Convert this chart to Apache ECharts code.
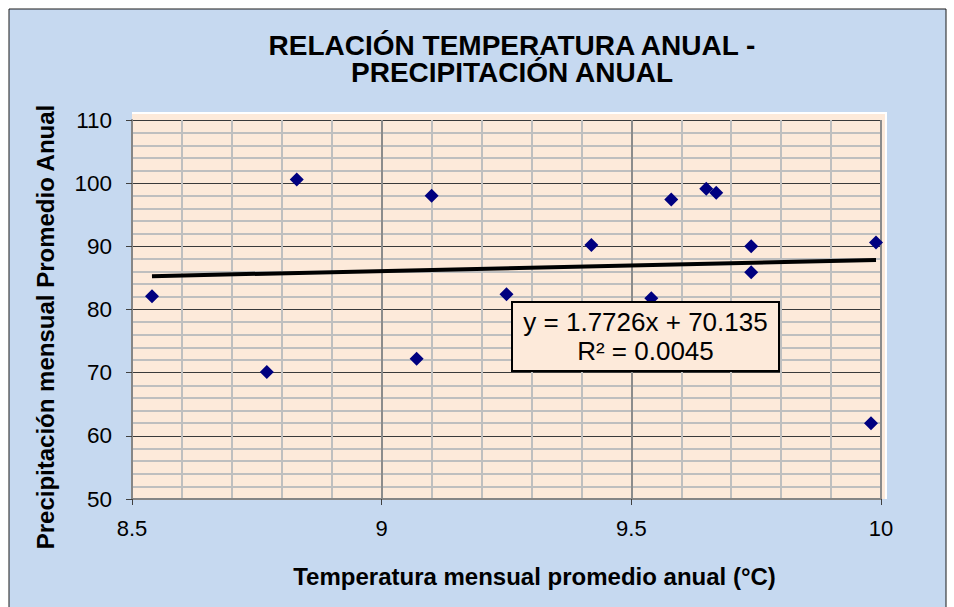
<!DOCTYPE html>
<html>
<head>
<meta charset="utf-8">
<title>Relación temperatura anual - precipitación anual</title>
<script src="https://cdn.jsdelivr.net/npm/echarts@6/dist/echarts.min.js"></script>
<style>
  html, body { margin: 0; padding: 0; background: #ffffff; }
  #chart { width: 954px; height: 607px; }
</style>
</head>
<body>
<div id="chart"></div>
<script>
// Temperatura media anual (°C) y precipitación media anual de cada estación
const temperatura = [8.54, 8.77, 8.83, 9.07, 9.10, 9.25, 9.42, 9.54, 9.58, 9.65, 9.67, 9.74, 9.74, 9.98, 9.99];
const precipitacion = [82.1, 70.1, 100.6, 72.2, 98.0, 82.4, 90.2, 81.8, 97.4, 99.1, 98.5, 90.0, 85.9, 62.0, 90.6];

// Línea de tendencia lineal: y = pendiente * x + intercepto
const pendiente = 1.7726;
const intercepto = 70.135;
const r2 = 0.0045;

const titulo = ['RELACIÓN TEMPERATURA ANUAL -', 'PRECIPITACIÓN ANUAL'];
const nombreEjeX = 'Temperatura mensual promedio anual (°C)';
const nombreEjeY = 'Precipitación mensual Promedio Anual';

const FONT = '"Liberation Sans", Arial, sans-serif';
const AZUL = '#C6D9F0';
const MELOCOTON = '#FDEADA';

const puntos = temperatura.map((t, i) => [t, precipitacion[i]]);
const xMin = Math.min(...temperatura);
const xMax = Math.max(...temperatura);
const tendencia = [
  [xMin, pendiente * xMin + intercepto],
  [xMax, pendiente * xMax + intercepto]
];

const chart = echarts.init(document.getElementById('chart'), null, { renderer: 'svg' });

chart.setOption({
  backgroundColor: '#ffffff',
  animation: false,
  grid: { left: 132, right: 73, top: 120, bottom: 108, containLabel: false },
  xAxis: {
    type: 'value',
    min: 8.5, max: 10, interval: 0.5,
    axisLine: { show: true, onZero: false, lineStyle: { color: '#868686', width: 2 } },
    axisTick: { show: true, inside: false, length: 6, lineStyle: { color: '#404040', width: 1 } },
    axisLabel: { margin: 18, color: '#000', fontFamily: FONT, fontSize: 22 },
    splitLine: { show: true, lineStyle: { color: '#8C8C8C', width: 2 } },
    minorTick: { show: false, splitNumber: 5 },
    minorSplitLine: { show: true, lineStyle: { color: '#BFBFBF', width: 2 } }
  },
  yAxis: {
    type: 'value',
    min: 50, max: 110, interval: 10,
    axisLine: { show: true, onZero: false, lineStyle: { color: '#868686', width: 2 } },
    axisTick: { show: true, inside: false, length: 6, lineStyle: { color: '#404040', width: 1 } },
    axisLabel: { margin: 20, color: '#000', fontFamily: FONT, fontSize: 22.5 },
    splitLine: { show: true, lineStyle: { color: '#3A3A3A', width: 1 } },
    minorTick: { show: false, splitNumber: 5 },
    minorSplitLine: { show: true, lineStyle: { color: '#BFBFBF', width: 2 } }
  },
  series: [
    {
      name: 'Tendencia',
      type: 'line',
      data: tendencia,
      showSymbol: false,
      symbol: 'none',
      lineStyle: { color: '#000000', width: 4 },
      z: 3,
      silent: true
    },
    {
      name: 'Estaciones',
      type: 'scatter',
      data: puntos,
      symbol: 'diamond',
      symbolSize: 14,
      itemStyle: { color: '#000080', opacity: 1 },
      z: 4
    }
  ]
});

// Fondo, recuadros y textos, situados a partir de la escala de los ejes
const esquinaSup = chart.convertToPixel({ gridIndex: 0 }, [8.5, 110]);
const esquinaInf = chart.convertToPixel({ gridIndex: 0 }, [10, 50]);
const pxL = esquinaSup[0], pxT = esquinaSup[1];
const pxR = esquinaInf[0], pxB = esquinaInf[1];

const lineasTitulo = titulo.map((linea, i) => ({
  type: 'text', z: 10, silent: true,
  x: 512, y: 45.5 + i * 27,
  style: {
    text: linea,
    align: 'center', verticalAlign: 'middle',
    fontFamily: FONT, fontSize: 28, fontWeight: 'bold',
    lineHeight: 26, fill: '#000'
  }
}));

chart.setOption({
  graphic: [
    {
      type: 'rect', z: -20, silent: true,
      shape: { x: 9, y: 9, width: 937, height: 610 },
      style: { fill: AZUL, stroke: '#1a1a1a', lineWidth: 1 }
    },
    {
      type: 'rect', z: -10, silent: true,
      shape: { x: pxL, y: pxT - 7, width: pxR - pxL + 5, height: pxB - pxT + 7 },
      style: { fill: MELOCOTON }
    },
    {
      type: 'polyline', z: -9, silent: true,
      shape: { points: [[pxL, pxT - 7], [pxR + 5, pxT - 7], [pxR + 5, pxB]] },
      style: { stroke: '#ffffff', lineWidth: 2, fill: null }
    },
    ...lineasTitulo,
    {
      type: 'text', z: 10, silent: true,
      x: 534.5, y: 576,
      style: {
        text: nombreEjeX,
        align: 'center', verticalAlign: 'middle',
        fontFamily: FONT, fontSize: 24, fontWeight: 'bold', fill: '#000'
      }
    },
    {
      type: 'text', z: 10, silent: true,
      x: 45, y: 327, rotation: Math.PI / 2,
      style: {
        text: nombreEjeY,
        align: 'center', verticalAlign: 'middle',
        fontFamily: FONT, fontSize: 24, fontWeight: 'bold', fill: '#000'
      }
    },
    {
      type: 'group', z: 100,
      children: [
        {
          type: 'rect', z: 100, silent: true,
          shape: { x: 512, y: 302, width: 267, height: 69 },
          style: { fill: MELOCOTON, stroke: '#000000', lineWidth: 2 }
        },
        {
          type: 'text', z: 101, silent: true,
          x: 645.5, y: 336.5,
          style: {
            text: 'y = ' + pendiente + 'x + ' + intercepto + '\nR² = ' + r2.toFixed(4),
            align: 'center', verticalAlign: 'middle',
            fontFamily: FONT, fontSize: 26, lineHeight: 29.3, fill: '#000'
          }
        }
      ]
    }
  ]
});
</script>
</body>
</html>
